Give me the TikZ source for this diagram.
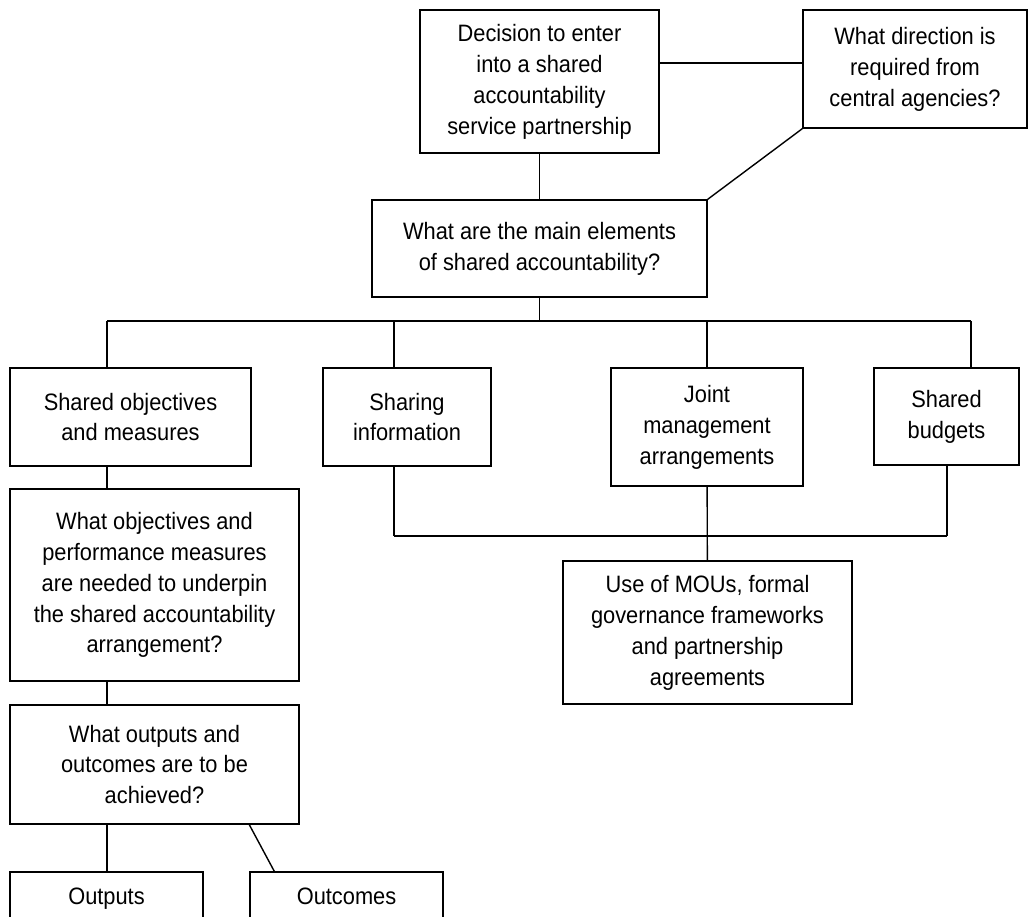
\documentclass[tikz,border=0pt]{standalone}
\usepackage{fontspec}
\setmainfont{Liberation Sans}[FakeStretch=0.92]

\begin{document}
\begin{tikzpicture}[line width=0.8pt]
     \useasboundingbox (0,0) rectangle (20.58,-18.34);
     \clip (0,0) rectangle (20.58,-18.34);
     \coordinate (bus1) at (2.14,-6.42);
     \coordinate (bus2) at (19.42,-6.42);
     \coordinate (bus3) at (7.88,-10.72);
     \coordinate (bus4) at (18.94,-10.72);
     \tikzstyle{every node} = [draw,align=center,inner sep=0pt,font=\fontsize{13.5}{17.6}\selectfont]
     \node[minimum width=4.78cm,minimum height=2.86cm] (dec) at (10.79,-1.63) {Decision to enter\\into a shared\\accountability\\service partnership};
     \node[minimum width=4.48cm,minimum height=2.36cm] (dir) at (18.30,-1.38) {What direction is\\required from\\central agencies?};
     \node[minimum width=6.70cm,minimum height=1.94cm] (elem) at (10.79,-4.97) {What are the main elements\\of shared accountability?};
     \node[minimum width=4.82cm,minimum height=1.96cm] (obj) at (2.61,-8.34) {Shared objectives\\and measures};
     \node[minimum width=3.36cm,minimum height=1.96cm] (info) at (8.14,-8.34) {Sharing\\information};
     \node[minimum width=3.84cm,minimum height=2.36cm] (joint) at (14.14,-8.54) {Joint\\management\\arrangements};
     \node[minimum width=2.90cm,minimum height=1.94cm] (budget) at (18.93,-8.33) {Shared\\budgets};
     \node[minimum width=5.78cm,minimum height=3.84cm] (perf) at (3.09,-11.70) {What objectives and\\performance measures\\are needed to underpin\\the shared accountability\\arrangement?};
     \node[minimum width=5.78cm,minimum height=2.86cm] (mou) at (14.15,-12.65) {Use of MOUs, formal\\governance frameworks\\and partnership\\agreements};
     \node[minimum width=5.78cm,minimum height=2.38cm] (achv) at (3.09,-15.29) {What outputs and\\outcomes are to be\\achieved?};
     \node[minimum width=3.86cm,minimum height=1.04cm,text height=0.34cm,text depth=0.1cm] (outp) at (2.13,-17.96) {Outputs};
     \node[minimum width=3.86cm,minimum height=1.04cm,text height=0.34cm,text depth=0.1cm] (outc) at (6.93,-17.96) {Outcomes};
     \draw ([yshift=0.12cm]dir.west) to ([yshift=0.12cm]dir.west -| dec.east);
     \draw (dir.south west) to (elem.north east);
     \draw (dec) to (elem);
     \draw (elem) to (elem |- bus1);
     \draw (bus1) to (bus2);
     \draw (bus1) to (bus1 |- obj.north);
     \draw (bus3 |- bus1) to (bus3 |- info.north);
     \draw (joint.north |- bus1) to (joint.north);
     \draw (bus2) to (bus2 |- budget.north);
     \draw (bus3) to (bus3 |- info.south);
     \draw (bus3) to (bus4);
     \draw (bus4) to (bus4 |- budget.south);
     \draw (joint) to (mou);
     \draw (bus1 |- obj.south) to (bus1 |- perf.north);
     \draw (bus1 |- perf.south) to (bus1 |- achv.north);
     \draw (bus1 |- achv.south) to (bus1 |- outp.north);
     \draw (achv.south -| outc.west) to ([xshift=0.5cm]outc.north west);
   \end{tikzpicture}
\end{document}
